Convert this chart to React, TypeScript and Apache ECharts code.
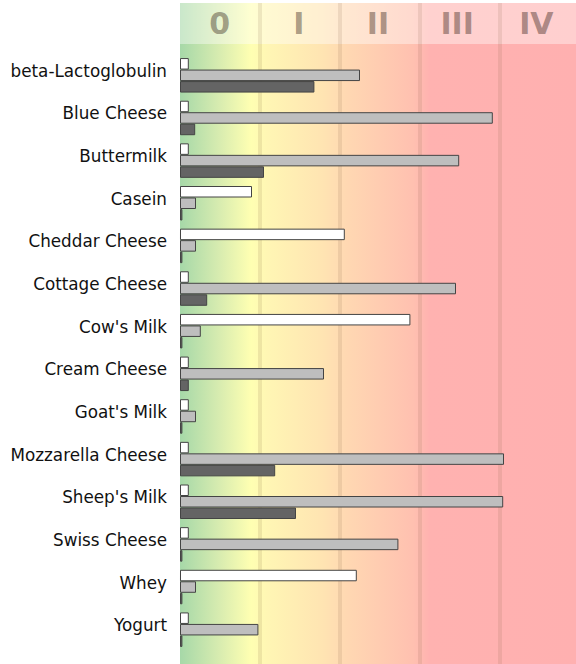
import React, { useEffect, useRef } from 'react';
import * as echarts from 'echarts';

const categories = [
  'beta-Lactoglobulin',
  'Blue Cheese',
  'Buttermilk',
  'Casein',
  'Cheddar Cheese',
  'Cottage Cheese',
  "Cow's Milk",
  'Cream Cheese',
  "Goat's Milk",
  'Mozzarella Cheese',
  "Sheep's Milk",
  'Swiss Cheese',
  'Whey',
  'Yogurt',
];
const classLabels = ['0', 'I', 'II', 'III', 'IV'];
const whiteValues = [0.11, 0.11, 0.11, 0.9, 2.06, 0.11, 2.88, 0.11, 0.11, 0.11, 0.11, 0.11, 2.21, 0.11];
const grayValues = [2.25, 3.91, 3.49, 0.2, 0.2, 3.45, 0.26, 1.8, 0.2, 4.05, 4.04, 2.73, 0.2, 0.98];
const darkValues = [1.68, 0.19, 1.05, 0.03, 0.03, 0.34, 0.03, 0.11, 0.03, 1.19, 1.45, 0.03, 0.03, 0.03];
const classMin = 0;
const classMax = 4.95;

export default function App() {
  const ref = useRef<HTMLDivElement>(null);
  useEffect(() => {
    document.body.style.margin = '0';
    if (!ref.current) return;
    const chart = echarts.init(ref.current, undefined, { renderer: 'svg' });
    const lineColor = 'rgba(120,90,60,0.13)';
    const font = 'DejaVu Sans';
    const barBorder = { borderColor: '#444', borderWidth: 1 };
    chart.setOption({
      animation: false,
      backgroundColor: '#ffffff',
      graphic: [
        {
          type: 'rect',
          z: -2,
          silent: true,
          shape: { x: 180, y: 3, width: 396, height: 661 },
          style: {
            fill: new echarts.graphic.LinearGradient(0, 0, 1, 0, [
              { offset: 0, color: '#a6d8a8' },
              { offset: 0.1, color: '#d8ecb0' },
              { offset: 0.18, color: '#ffffb2' },
              { offset: 0.22, color: '#fff6b4' },
              { offset: 0.36, color: '#ffe4b2' },
              { offset: 0.42, color: '#ffd8b2' },
              { offset: 0.59, color: '#ffc0b0' },
              { offset: 0.63, color: '#ffb2b0' },
              { offset: 1, color: '#ffb0b0' },
            ]),
          },
        },
        {
          type: 'rect',
          z: -1,
          silent: true,
          shape: { x: 180, y: 3, width: 396, height: 41 },
          style: { fill: 'rgba(255,255,255,0.4)' },
        },
      ],
      grid: [
        { left: 180, right: 0, top: 3, bottom: 0 },
        { left: 180, right: 0, top: 54, bottom: 13 },
      ],
      xAxis: [
        {
          gridIndex: 0,
          type: 'value',
          min: classMin,
          max: classMax,
          interval: 1,
          axisLabel: { show: false },
          axisLine: { show: false },
          axisTick: { show: false },
          splitLine: {
            show: true,
            lineStyle: {
              width: 4,
              color: ['rgba(0,0,0,0)', lineColor, lineColor, lineColor, lineColor, 'rgba(0,0,0,0)'],
            },
          },
        },
        {
          gridIndex: 0,
          type: 'category',
          position: 'top',
          data: classLabels,
          boundaryGap: true,
          axisLine: { show: false },
          axisTick: { show: false },
          splitLine: { show: false },
          axisLabel: {
            inside: true,
            margin: 20,
            verticalAlign: 'middle',
            fontSize: 30,
            fontWeight: 'bold',
            fontFamily: font,
            color: 'rgba(40,20,10,0.4)',
          },
        },
        {
          gridIndex: 1,
          type: 'value',
          min: classMin,
          max: classMax,
          show: false,
        },
      ],
      yAxis: [
        { gridIndex: 0, type: 'value', min: 0, max: 1, show: false },
        {
          gridIndex: 1,
          type: 'category',
          inverse: true,
          data: categories,
          axisLine: { show: false },
          axisTick: { show: false },
          splitLine: { show: false },
          axisLabel: {
            margin: 13,
            fontSize: 16.8,
            fontFamily: font,
            color: '#111',
            verticalAlign: 'bottom',
            lineHeight: 9,
          },
        },
      ],
      series: [
        {
          type: 'bar',
          xAxisIndex: 2,
          yAxisIndex: 1,
          data: whiteValues,
          barWidth: 11.5,
          barGap: '0%',
          silent: true,
          itemStyle: { color: '#ffffff', ...barBorder },
        },
        {
          type: 'bar',
          xAxisIndex: 2,
          yAxisIndex: 1,
          data: grayValues,
          barWidth: 11.5,
          barGap: '0%',
          silent: true,
          itemStyle: { color: '#bebebe', ...barBorder },
        },
        {
          type: 'bar',
          xAxisIndex: 2,
          yAxisIndex: 1,
          data: darkValues,
          barWidth: 11.5,
          barGap: '0%',
          silent: true,
          itemStyle: { color: '#646464', ...barBorder },
        },
      ],
    });
    return () => chart.dispose();
  }, []);
  return <div ref={ref} style={{ width: 576, height: 664 }} />;
}
